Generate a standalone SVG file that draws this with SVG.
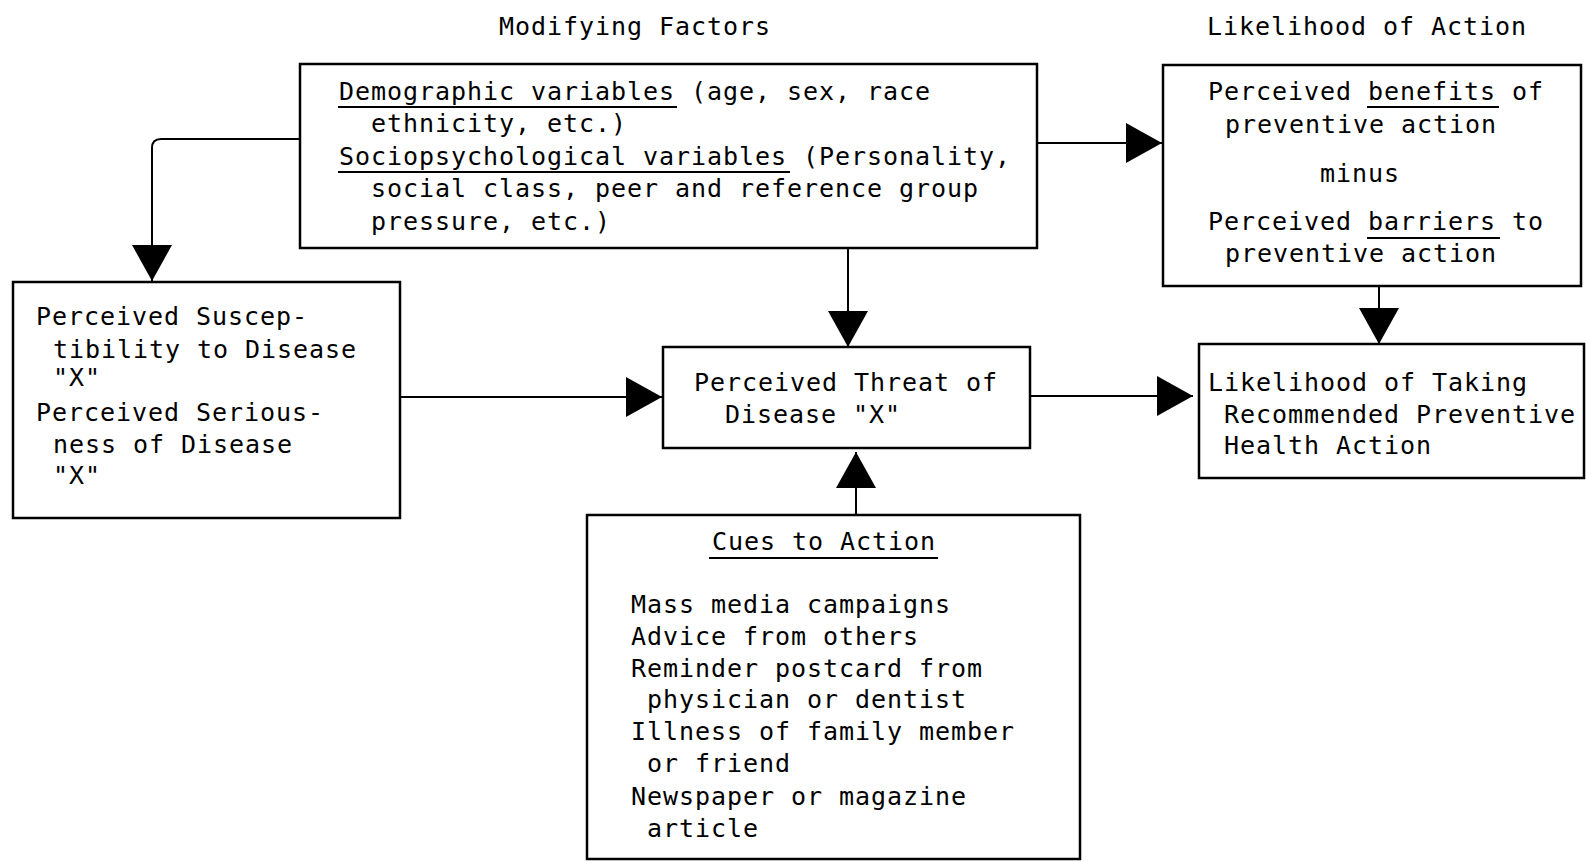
<svg xmlns="http://www.w3.org/2000/svg" width="1586" height="861" viewBox="0 0 1586 861">
<style>
text{font-family:"DejaVu Sans Mono","Liberation Mono",monospace;font-size:25px;letter-spacing:0.95px;fill:#000}
.box{fill:#fff;stroke:#000;stroke-width:2.5}
.ul{stroke:#000;stroke-width:2}
.con{fill:none;stroke:#000;stroke-width:2;marker-end:url(#ah)}
</style>
<defs>
<marker id="ah" markerUnits="userSpaceOnUse" viewBox="0 0 36 40" markerWidth="36" markerHeight="40" refX="36" refY="20" orient="auto">
<path d="M0,0 L36,20 L0,40 Z" fill="#000"/>
</marker>
</defs>
<rect width="1586" height="861" fill="#fff"/>
<g id="titles">
<text x="499" y="35">Modifying Factors</text>
<text x="1207" y="35">Likelihood of Action</text>
</g>
<g id="connectors">
<path class="con" d="M300,139 H161 Q152,139 152,148 V281"/>
<path class="con" d="M848,248 V347"/>
<path class="con" d="M400,397 H662"/>
<path class="con" d="M1037,143 H1162"/>
<path class="con" d="M1379,286 V344"/>
<path class="con" d="M1030,396 H1193"/>
<path class="con" d="M856,515 V452"/>
</g>
<g id="modifying">
<rect class="box" x="300" y="64" width="737" height="184"/>
<text x="339" y="100">Demographic variables (age, sex, race</text>
<line class="ul" x1="338" y1="107" x2="677" y2="107"/>
<text x="371" y="132">ethnicity, etc.)</text>
<text x="339" y="165">Sociopsychological variables (Personality,</text>
<line class="ul" x1="338" y1="172" x2="790" y2="172"/>
<text x="371" y="197">social class, peer and reference group</text>
<text x="371" y="230">pressure, etc.)</text>
</g>
<g id="benefits">
<rect class="box" x="1163" y="65" width="418" height="221"/>
<text x="1208" y="100">Perceived benefits of</text>
<line class="ul" x1="1367" y1="107" x2="1499" y2="107"/>
<text x="1225" y="133">preventive action</text>
<text x="1320" y="182">minus</text>
<text x="1208" y="230">Perceived barriers to</text>
<line class="ul" x1="1367" y1="238" x2="1500" y2="238"/>
<text x="1225" y="262">preventive action</text>
</g>
<g id="susceptibility">
<rect class="box" x="13" y="282" width="387" height="236"/>
<text x="36" y="325">Perceived Suscep-</text>
<text x="53" y="358">tibility to Disease</text>
<text x="53" y="386">"X"</text>
<text x="36" y="421">Perceived Serious-</text>
<text x="53" y="453">ness of Disease</text>
<text x="53" y="484">"X"</text>
</g>
<g id="threat">
<rect class="box" x="663" y="347" width="367" height="101"/>
<text x="694" y="391">Perceived Threat of</text>
<text x="725" y="423">Disease "X"</text>
</g>
<g id="likelihood">
<rect class="box" x="1199" y="344" width="385" height="134"/>
<text x="1208" y="391">Likelihood of Taking</text>
<text x="1224" y="423">Recommended Preventive</text>
<text x="1224" y="454">Health Action</text>
</g>
<g id="cues">
<rect class="box" x="587" y="515" width="493" height="344"/>
<text x="712" y="550">Cues to Action</text>
<line class="ul" x1="709" y1="558" x2="938" y2="558"/>
<text x="631" y="613">Mass media campaigns</text>
<text x="631" y="645">Advice from others</text>
<text x="631" y="677">Reminder postcard from</text>
<text x="647" y="708">physician or dentist</text>
<text x="631" y="740">Illness of family member</text>
<text x="647" y="772">or friend</text>
<text x="631" y="805">Newspaper or magazine</text>
<text x="647" y="837">article</text>
</g>
</svg>
